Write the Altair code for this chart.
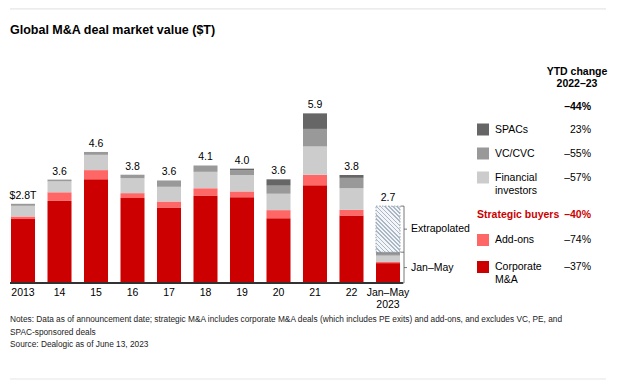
import altair as alt
import pandas as pd

# ---------------- data ----------------
categories = ["2013", "14", "15", "16", "17", "18", "19", "20", "21", "22", "Jan–May 2023"]
corporate = [2.22, 2.85, 3.60, 2.95, 2.62, 3.04, 2.98, 2.25, 3.39, 2.34, 0.69]
addons = [0.09, 0.30, 0.32, 0.17, 0.21, 0.25, 0.20, 0.28, 0.37, 0.20, 0.04]
financial = [0.37, 0.38, 0.53, 0.52, 0.51, 0.57, 0.57, 0.57, 0.98, 0.75, 0.22]
vc_cvc = [0.07, 0.06, 0.10, 0.12, 0.22, 0.22, 0.17, 0.28, 0.61, 0.36, 0.07]
spacs = [0.00, 0.00, 0.00, 0.00, 0.00, 0.00, 0.05, 0.22, 0.54, 0.10, 0.05]
extrapolated = [0, 0, 0, 0, 0, 0, 0, 0, 0, 0, 1.60]
total_labels = ["$2.8T", "3.6", "4.6", "3.8", "3.6", "4.1", "4.0", "3.6", "5.9", "3.8", "2.7"]

segments = ["Corporate M&A", "Add-ons", "Financial investors", "VC/CVC", "SPACs"]
seg_colors = ["#CC0000", "#FF6666", "#CCCCCC", "#999999", "#666666"]
seg_change = ["–37%", "–74%", "–57%", "–55%", "23%"]
strategic_change = "–40%"
overall_change = "–44%"

title_text = "Global M&A deal market value ($T)"
notes = [
    "Notes: Data as of announcement date; strategic M&A includes corporate M&A deals (which includes PE exits) and add-ons, and excludes VC, PE, and",
    "SPAC-sponsored deals",
    "Source: Dealogic as of June 13, 2023",
]

# ---------------- tables ----------------
rows = []
tot_rows = []
series = [corporate, addons, financial, vc_cvc, spacs]
for i, c in enumerate(categories):
    base = 0.0
    for s, vals in zip(segments, series):
        v = vals[i]
        if v > 0:
            rows.append(dict(cat=c, seg=s, y0=base, y1=base + v))
        base += v
    tot_rows.append(dict(cat=c, actual=base, total=base + extrapolated[i],
                         ext=extrapolated[i], label=total_labels[i]))
seg_df = pd.DataFrame(rows)
tot_df = pd.DataFrame(tot_rows)
ext_df = tot_df[tot_df["ext"] > 0].copy()
ext_df["mid_ext"] = (ext_df["actual"] + ext_df["total"]) / 2
ext_df["mid_act"] = ext_df["actual"] / 2
ext_df["zero"] = 0.0

FONT = "Liberation Sans, Arial, Helvetica, sans-serif"
FS = 10.5
W, H = 604, 372

xscale = alt.Scale(domain=categories, range=[3, 392], paddingInner=0.342, paddingOuter=0)
yscale = alt.Scale(domain=[0, 6], range=[275, 275 - 6 * 28.8], nice=False, zero=True)
X = alt.X("cat:N", scale=xscale, axis=None)

bars = alt.Chart(seg_df).mark_bar().encode(
    x=X,
    y=alt.Y("y1:Q", scale=yscale, axis=None),
    y2="y0:Q",
    color=alt.Color("seg:N", scale=alt.Scale(domain=segments, range=seg_colors), legend=None),
)

# hatched extrapolated bar via hard-stop gradient
n_stripes = 17
stops = []
for k in range(n_stripes):
    a = k / n_stripes
    b = (k + 0.4) / n_stripes
    c = (k + 1) / n_stripes
    stops += [alt.GradientStop(offset=a, color="#AAB8C6"),
              alt.GradientStop(offset=b, color="#AAB8C6"),
              alt.GradientStop(offset=b, color="#F3F5F8"),
              alt.GradientStop(offset=c, color="#F3F5F8")]
hatch = alt.LinearGradient(gradient="linear", stops=stops, x1=0, y1=1, x2=0.625, y2=-0.197)

ext_bar = alt.Chart(ext_df).mark_bar(
    fill=hatch, stroke="#9AA6B2", strokeWidth=1, strokeDash=[1.5, 1.5]
).encode(x=X, y=alt.Y("total:Q", scale=yscale, axis=None), y2="actual:Q")

labels = alt.Chart(tot_df).mark_text(
    font=FONT, fontSize=FS, color="#000000", baseline="middle", dy=-8
).encode(x=X, y=alt.Y("total:Q", scale=yscale), text="label:N")

xlabels = alt.Chart(tot_df).mark_text(
    font=FONT, fontSize=FS, color="#000000", baseline="top", lineBreak=" ", lineHeight=12
).encode(x=X, y=alt.value(280), text="cat:N")

baseline = alt.Chart(tot_df).mark_rule(color="#333333", strokeWidth=1.5).encode(
    x=alt.value(2), x2=alt.value(395), y=alt.datum(0, scale=yscale)
)

# bracket
BX = 396
br_v = alt.Chart(ext_df).mark_rule(color="#555555", strokeWidth=0.8).encode(
    x=alt.value(BX), y=alt.Y("total:Q", scale=yscale), y2="zero:Q")
br_layers = [br_v]
for fld in ["total", "actual", "zero"]:
    br_layers.append(alt.Chart(ext_df).mark_rule(color="#555555", strokeWidth=0.8).encode(
        x=alt.value(BX - 3.5), x2=alt.value(BX), y=alt.Y(f"{fld}:Q", scale=yscale)))
for fld in ["mid_ext", "mid_act"]:
    br_layers.append(alt.Chart(ext_df).mark_rule(color="#555555", strokeWidth=0.8).encode(
        x=alt.value(BX), x2=alt.value(BX + 3), y=alt.Y(f"{fld}:Q", scale=yscale)))
ext_txt = alt.Chart(ext_df).mark_text(font=FONT, fontSize=FS, align="left", baseline="middle",
                                      color="#000000").encode(
    x=alt.value(403), y=alt.Y("mid_ext:Q", scale=yscale), text=alt.value("Extrapolated"))
act_txt = alt.Chart(ext_df).mark_text(font=FONT, fontSize=FS, align="left", baseline="middle",
                                      color="#000000").encode(
    x=alt.value(403), y=alt.Y("mid_act:Q", scale=yscale), text=alt.value("Jan–May"))

# ---------------- legend / annotations ----------------
anchor = pd.DataFrame({"a": [0]})


def txt(s, x, y, align="left", bold=False, color="#000000", size=FS):
    return alt.Chart(anchor).mark_text(
        font=FONT, fontSize=size, align=align, baseline="middle",
        fontWeight="bold" if bold else "normal", color=color
    ).encode(x=alt.value(x), y=alt.value(y), text=alt.value(s))


def swatch(color, yc):
    return alt.Chart(anchor).mark_rect(color=color).encode(
        x=alt.value(469), x2=alt.value(481), y=alt.value(yc - 6), y2=alt.value(yc + 6))


leg = [
    txt("YTD change", 569, 64, align="center", bold=True),
    txt("2022–23", 569, 76, align="center", bold=True),
    txt(overall_change, 583, 99, align="right", bold=True),
]
row_y = {"SPACs": 121.5, "VC/CVC": 145.5, "Financial investors": 169.5,
         "Add-ons": 232, "Corporate M&A": 259}
for s, col, ch in zip(segments, seg_colors, seg_change):
    yc = row_y[s]
    leg.append(swatch(col, yc))
    if s == "Financial investors":
        leg += [txt("Financial", 487, yc), txt("investors", 487, yc + 13)]
    elif s == "Corporate M&A":
        leg += [txt("Corporate", 487, yc), txt("M&A", 487, yc + 13)]
    else:
        leg.append(txt(s, 487, yc))
    leg.append(txt(ch, 583, yc, align="right"))
leg += [txt("Strategic buyers", 469, 207, bold=True, color="#CC0000"),
        txt(strategic_change, 583, 207, align="right", bold=True, color="#CC0000")]

title = txt(title_text, 2, 22, bold=True, size=12.5)
note_layers = [txt(t, 2, y, size=8.3, color="#222222") for t, y in zip(notes, [312, 325, 337])]

top_line = alt.Chart(anchor).mark_rule(color="#E6E6E6", strokeWidth=1.2).encode(
    x=alt.value(2), x2=alt.value(598), y=alt.value(0.8))
bot_line = alt.Chart(anchor).mark_rule(color="#E6E6E6", strokeWidth=1.2).encode(
    x=alt.value(2), x2=alt.value(598), y=alt.value(371))

chart = alt.layer(
    top_line, bot_line, title, bars, ext_bar, labels, xlabels, baseline,
    *br_layers, ext_txt, act_txt, *leg, *note_layers
).properties(
    width=W, height=H, padding=0, autosize=alt.AutoSizeParams(type="none")
).configure_view(stroke=None)

chart.save("out.html", embed_options={"renderer": "svg", "actions": False})
